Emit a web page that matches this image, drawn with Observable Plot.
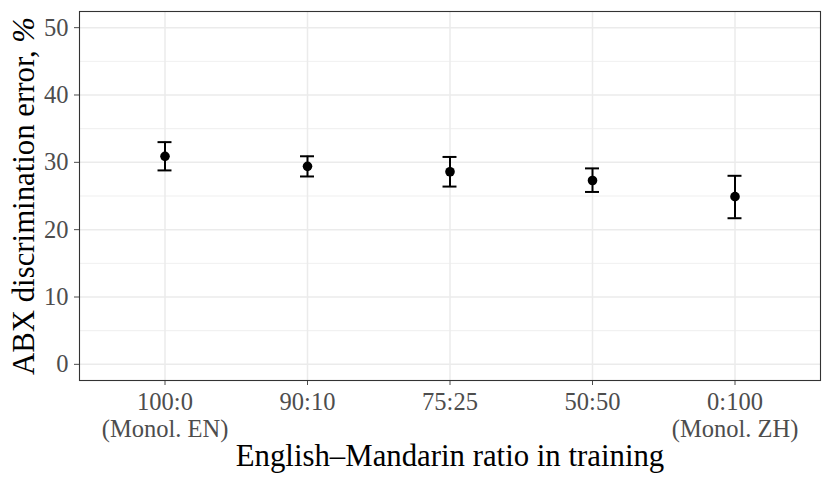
<!DOCTYPE html>
<html>
<head>
<meta charset="utf-8">
<script src="https://cdn.jsdelivr.net/npm/d3@7"></script>
<script src="https://cdn.jsdelivr.net/npm/@observablehq/plot@0.6"></script>
<style>
  html, body { margin: 0; padding: 0; background: #fff; }
</style>
</head>
<body>
<div id="chart"></div>
<script>
const categories = ["100:0", "90:10", "75:25", "50:50", "0:100"];
const subLabels = ["(Monol. EN)", "", "", "", "(Monol. ZH)"];
const means = [30.9, 29.4, 28.6, 27.3, 24.9];
const lower = [28.8, 27.9, 26.4, 25.6, 21.7];
const upper = [33.0, 30.9, 30.8, 29.1, 28.0];
const yTicks = [0, 10, 20, 30, 40, 50];
const yMinor = [5, 15, 25, 35, 45];
const xTitle = "English\u2013Mandarin ratio in training";
const yTitle = "ABX discrimination error, %";

const data = categories.map((c, i) => ({cat: c, mean: means[i], lo: lower[i], hi: upper[i]}));
const labelOf = Object.fromEntries(categories.map((c, i) => [c, subLabels[i] ? c + "\n" + subLabels[i] : c]));

const plot = Plot.plot({
  width: 830,
  height: 485,
  marginLeft: 79,
  marginRight: 10,
  marginTop: 11,
  marginBottom: 105,
  style: {fontFamily: "'Liberation Serif', 'DejaVu Serif', serif", background: "#fff"},
  x: {type: "band", domain: categories, paddingInner: 0.902, paddingOuter: 0.551, round: false},
  y: {domain: [-2.4, 52.4]},
  marks: [
    Plot.gridY(yMinor, {stroke: "#EBEBEB", strokeOpacity: 1, strokeWidth: 0.8}),
    Plot.gridY(yTicks, {stroke: "#EBEBEB", strokeOpacity: 1, strokeWidth: 1.5}),
    Plot.gridX(categories, {stroke: "#EBEBEB", strokeOpacity: 1, strokeWidth: 1.5}),
    Plot.axisY(yTicks, {tickSize: 5, tickPadding: 6, fontSize: 24.5, color: "#4D4D4D", label: null}),
    Plot.axisX({tickSize: 5, tickPadding: 5, fontSize: 24.5, lineHeight: 1.1, color: "#4D4D4D",
      tickFormat: d => labelOf[d], label: null}),
    Plot.ruleX(data, {x: "cat", y1: "lo", y2: "hi", stroke: "black", strokeWidth: 2}),
    Plot.tickY(data, {x: "cat", y: "lo", stroke: "black", strokeWidth: 2}),
    Plot.tickY(data, {x: "cat", y: "hi", stroke: "black", strokeWidth: 2}),
    Plot.dot(data, {x: "cat", y: "mean", r: 4.8, fill: "black", stroke: "none"}),
    Plot.frame({stroke: "#333333", strokeWidth: 1.1}),
    Plot.text([xTitle], {frameAnchor: "bottom", dy: 75.2, fontSize: 30.8, fill: "black", lineAnchor: "middle", textAnchor: "middle"}),
    Plot.text([yTitle], {frameAnchor: "left", dx: -55.8, rotate: -90, fontSize: 30.8, fill: "black", lineAnchor: "middle", textAnchor: "middle"})
  ]
});
document.getElementById("chart").appendChild(plot);

// italic percent sign in the y title
d3.select(plot).selectAll("text").each(function() {
  const t = d3.select(this);
  if (t.text() === yTitle) {
    t.text(null);
    t.append("tspan").text(yTitle.slice(0, -1));
    t.append("tspan").attr("font-style", "italic").text("%");
  }
});
</script>
</body>
</html>
